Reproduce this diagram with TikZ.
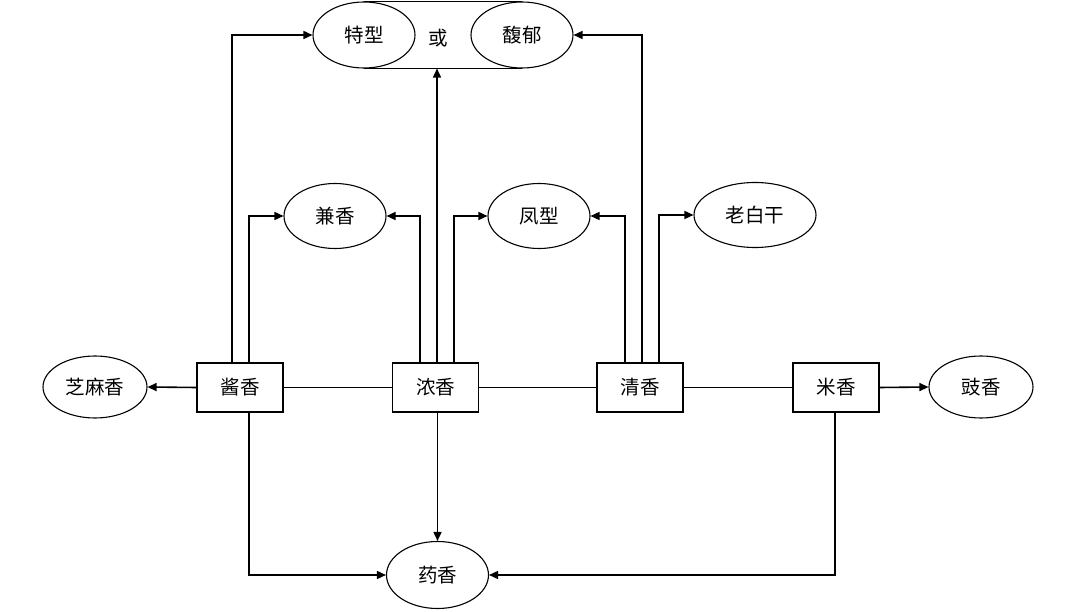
\documentclass[tikz,border=0pt]{standalone}
\usepackage{fontspec}
\setmainfont{Noto Sans CJK SC}
\usetikzlibrary{arrows.meta,shapes.geometric,calc}
\tikzset{
  lbl/.style={font=\fontsize{19.5}{21}\selectfont},
  oval/.style={draw,ellipse,line width=1.1pt,minimum width=102pt,minimum height=66pt,inner sep=0pt,lbl},
  box/.style={draw,rectangle,line width=1.1pt,minimum width=86pt,minimum height=49pt,inner sep=0pt,lbl},
  conn/.style={line width=1.1pt},
  arr/.style={line width=1.6pt,-{Triangle[length=9pt,width=8pt]}},
}
\begin{document}
\begin{tikzpicture}[x=1pt,y=-1pt]
\useasboundingbox[fill=white] (0,0) rectangle (1080,612);
% top
\node[oval] (tex) at (364,35) {特型};
\node[oval] (fuyu) at (522,35) {馥郁};
\node[lbl] (huo) at (438,38) {或};
\draw[conn] (tex.north) -- (fuyu.north);
\draw[conn] (tex.south) -- (fuyu.south);
% middle ellipses
\node[oval,minimum height=65pt] (jian) at (335,216) {兼香};
\node[oval,minimum height=65pt] (feng) at (539,216) {凤型};
\node[oval,minimum width=122pt,minimum height=65pt] (lao) at (755,215) {老白干};
% row
\node[oval,minimum width=104pt,minimum height=62pt] (zhima) at (95,387) {芝麻香};
\node[box] (jiang) at (240,387.5) {酱香};
\node[box] (nong) at (435.5,387.5) {浓香};
\node[box] (qing) at (640,387.5) {清香};
\node[box] (mi) at (836,387.5) {米香};
\node[oval,minimum width=104pt,minimum height=62pt] (chi) at (981,387) {豉香};
% bottom
\node[oval,minimum height=67pt] (yao) at (437.5,575) {药香};
% connectors
\draw[conn] (jiang.east) -- (nong.west);
\draw[conn] (nong.east) -- (qing.west);
\draw[conn] (qing.east) -- (mi.west);
\draw[arr] (jiang.west) -- (zhima.east);
\draw[arr] (mi.east) -- (chi.west);
\draw[arr] ([xshift=-8]jiang.north) |- (tex.west);
\draw[arr] ([xshift=9]jiang.north) |- (jian.west);
\draw[arr] ([xshift=-15.5]nong.north) |- (jian.east);
\draw[arr] ([xshift=1.5]nong.north) -- ([xshift=1.5]nong.north |- tex.south);
\draw[arr] ([xshift=18.5]nong.north) |- (feng.west);
\draw[arr] ([xshift=-15]qing.north) |- (feng.east);
\draw[arr] ([xshift=2]qing.north) |- (fuyu.east);
\draw[arr] ([xshift=19]qing.north) |- (lao.west);
\draw[arr] ([xshift=9]jiang.south) |- (yao.west);
\draw[arr] (yao.north |- nong.south) -- (yao.north);
\draw[arr] ([xshift=-1]mi.south) |- (yao.east);
\end{tikzpicture}
\end{document}
